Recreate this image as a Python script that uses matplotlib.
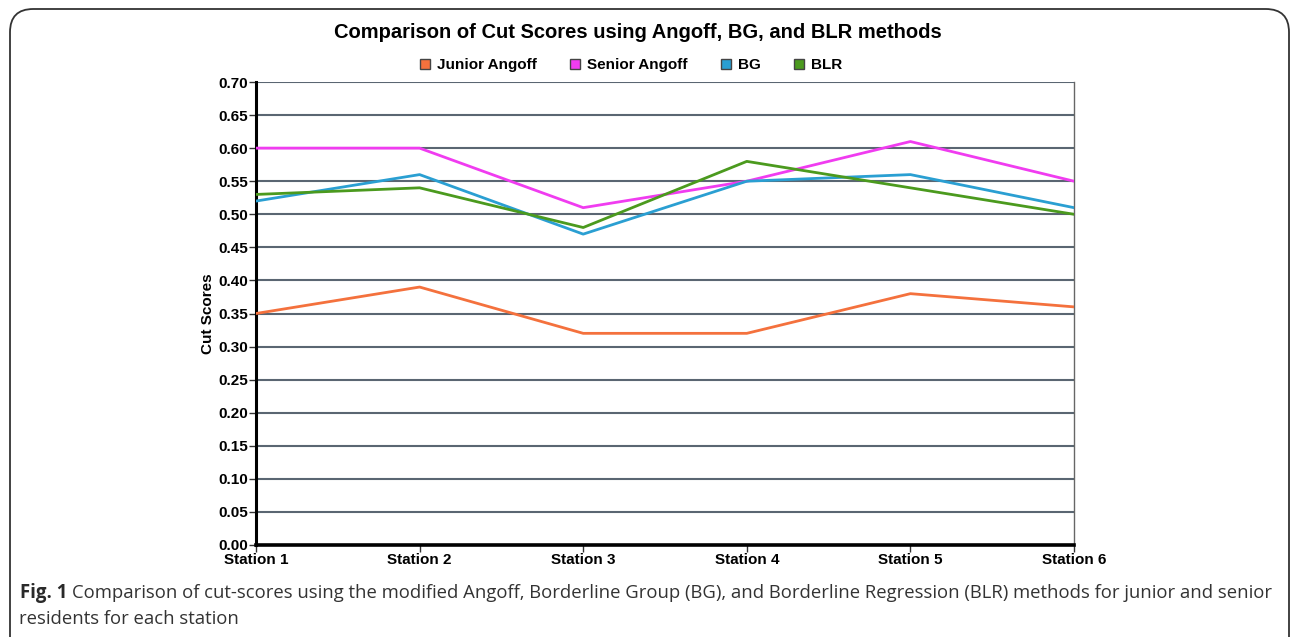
import matplotlib.pyplot as plt
from matplotlib.patches import FancyBboxPatch
import numpy as np

stations = ["Station 1", "Station 2", "Station 3", "Station 4", "Station 5", "Station 6"]
junior_angoff = [0.35, 0.39, 0.32, 0.32, 0.38, 0.36]
senior_angoff = [0.60, 0.60, 0.51, 0.55, 0.61, 0.55]
bg = [0.52, 0.56, 0.47, 0.55, 0.56, 0.51]
blr = [0.53, 0.54, 0.48, 0.58, 0.54, 0.50]

series = [
    ("Junior Angoff", junior_angoff, "#f4713d"),
    ("Senior Angoff", senior_angoff, "#f03cf0"),
    ("BG", bg, "#2a9fd2"),
    ("BLR", blr, "#4b9a1e"),
]

W, H = 1290, 637
fig = plt.figure(figsize=(W / 100, H / 100), dpi=100)
plt.rcParams['font.family'] = ['Liberation Sans', 'DejaVu Sans']

# rounded outer frame (runs off the bottom and right edges of the image)
frame = FancyBboxPatch((10 / W, 1 - 660 / H), (1289 - 10) / W, (660 - 9) / H,
                       boxstyle="round,pad=0,rounding_size=0.018",
                       transform=fig.transFigure, fill=False,
                       edgecolor="#333333", linewidth=1.3, mutation_aspect=W / H)
fig.patches.append(frame)

ax = fig.add_axes([256 / W, 1 - 545 / H, (1074 - 256) / W, (545 - 82) / H])

x = np.arange(len(stations))
for name, vals, color in series:
    ax.plot(x, vals, color=color, linewidth=2, label=name, zorder=3)

ax.set_xlim(0, len(stations) - 1)
ax.set_ylim(0, 0.70)
yt = np.round(np.arange(0, 0.701, 0.05), 2)
ax.set_yticks(yt)
ax.set_yticklabels([f"{v:.2f}" for v in yt], fontsize=11, fontweight='bold')
ax.set_xticks(x)
ax.set_xticklabels(stations, fontsize=11, fontweight='bold')
ax.tick_params(axis='both', direction='out', length=5, width=1, color='#333333', pad=1)
for v in yt[1:]:
    ax.axhline(v, color="#5a6672", linewidth=1.5, zorder=1)

ax.spines['left'].set_linewidth(2.2)
ax.spines['left'].set_color('black')
ax.spines['bottom'].set_linewidth(2.6)
ax.spines['bottom'].set_color('black')
ax.spines['top'].set_visible(False)
ax.spines['right'].set_color('#666666')
ax.spines['right'].set_linewidth(1)

ax.set_ylabel("Cut Scores", fontsize=11, fontweight='bold', labelpad=2)

fig.text(638 / W, 1 - 33 / H, "Comparison of Cut Scores using Angoff, BG, and BLR methods",
         ha='center', va='center', fontsize=14.5, fontweight='bold')

fig.legend([plt.Rectangle((0, 0), 1, 1, facecolor=c, edgecolor='#444444') for _, _, c in series],
           [s[0] for s in series], loc='center', bbox_to_anchor=(631 / W, 1 - 65 / H),
           ncol=4, frameon=False, handlelength=0.65, handleheight=0.65,
           handletextpad=0.45, columnspacing=2.2,
           prop={'weight': 'bold', 'size': 11})

cap_font = ['Open Sans', 'DejaVu Sans']
fig.text(20 / W, 1 - 593 / H, "Fig. 1", ha='left', va='center', fontsize=13.4,
         fontweight='bold', family=cap_font, color='#2a2a2a')
fig.text(72 / W, 1 - 593 / H,
         "Comparison of cut-scores using the modified Angoff, Borderline Group (BG), and Borderline Regression (BLR) methods for junior and senior",
         ha='left', va='center', fontsize=13.3, family=cap_font, color='#333333')
fig.text(19 / W, 1 - 619 / H, "residents for each station", ha='left', va='center',
         fontsize=13.3, family=cap_font, color='#333333')

fig.savefig("out.png", dpi=100)
